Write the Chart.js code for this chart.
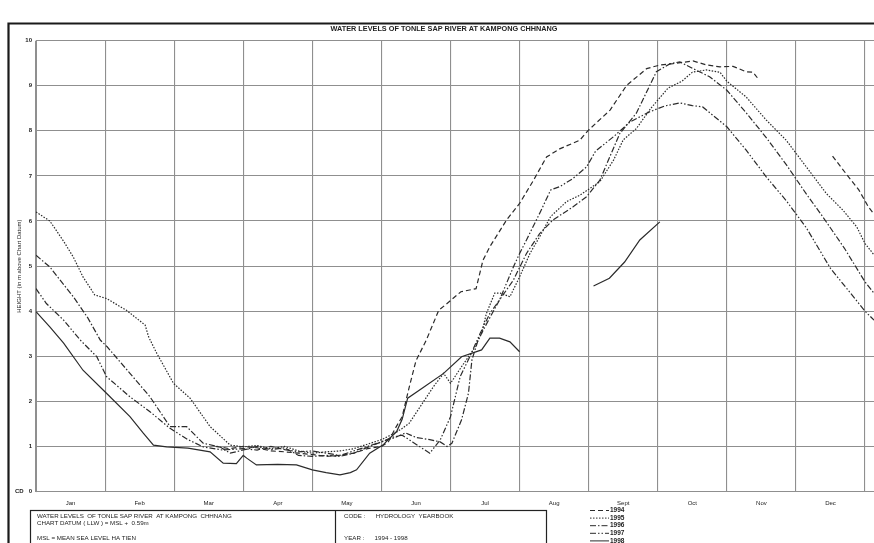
<!DOCTYPE html>
<html><head><meta charset="utf-8">
<script src="https://cdn.jsdelivr.net/npm/chart.js@4/dist/chart.umd.min.js"></script>
<style>html,body{margin:0;padding:0;background:#fff;}#wrap{position:relative;width:874px;height:543px;}</style>
</head><body><div id="wrap"><canvas id="c" width="874" height="543"></canvas></div>
<script>
// ---- data (x = month position, 0 = 1 Jan, 12 = 31 Dec) ----
const months = ['Jan','Feb','Mar','Apr','May','Jun','Jul','Aug','Sept','Oct','Nov','Dec'];
const monthEdges = [0,1,2,3,4,5,6,7,8,9,10,11,12];
const yTicks = [0,1,2,3,4,5,6,7,8,9,10];
const years = ['1994','1995','1996','1997','1998'];
const dashes = [[5,3],[1.5,1.5],[6,2,1.5,2],[6,2,1.5,2,1.5,2],[]];

const y1994 = [[2.6,1.0],[2.8,0.95],[3.0,1.0],[3.2,0.97],[3.4,0.9],[3.6,0.88],[3.8,0.85],[4.0,0.82],[4.2,0.78],[4.4,0.8],[4.6,0.85],[4.8,0.95],[5.0,1.0],[5.1,1.1],[5.2,1.4],[5.3,1.66],[5.4,2.3],[5.5,2.9],[5.65,3.36],[5.83,4.02],[5.95,4.17],[6.15,4.43],[6.37,4.5],[6.47,5.13],[6.57,5.43],[6.81,6.02],[7.0,6.39],[7.2,6.9],[7.39,7.42],[7.58,7.6],[7.87,7.79],[8.0,8.02],[8.31,8.46],[8.55,9.01],[8.84,9.38],[9.03,9.46],[9.22,9.49],[9.51,9.55],[9.71,9.46],[9.9,9.42],[10.09,9.43],[10.28,9.31],[10.38,9.3],[10.45,9.16],[11.0,null],[11.53,7.44],[11.72,7.06],[11.91,6.69],[12.05,6.31],[12.13,6.15]];
const y1995 = [[0,6.2],[0.2,6.0],[0.4,5.55],[0.54,5.2],[0.68,4.76],[0.85,4.36],[1.02,4.28],[1.31,4.02],[1.58,3.69],[1.63,3.43],[1.75,3.06],[1.99,2.4],[2.23,2.07],[2.52,1.44],[2.81,1.03],[3.0,0.99],[3.2,1.02],[3.4,0.95],[3.6,1.0],[3.8,0.9],[4.0,0.85],[4.2,0.88],[4.4,0.9],[4.6,0.95],[4.8,1.05],[5.0,1.15],[5.2,1.3],[5.3,1.4],[5.4,1.51],[5.56,1.88],[5.75,2.32],[5.9,2.62],[6.0,2.4],[6.16,2.77],[6.33,3.14],[6.45,3.51],[6.52,3.95],[6.64,4.4],[6.72,4.4],[6.86,4.32],[7.0,4.76],[7.15,5.28],[7.29,5.65],[7.45,6.1],[7.68,6.43],[7.87,6.57],[8.16,6.87],[8.36,7.35],[8.5,7.8],[8.69,8.05],[8.9,8.5],[9.15,8.95],[9.35,9.1],[9.5,9.3],[9.7,9.35],[9.9,9.3],[10.0,9.1],[10.28,8.75],[10.57,8.24],[10.86,7.79],[11.15,7.2],[11.44,6.61],[11.68,6.24],[11.88,5.87],[12.0,5.5],[12.13,5.25]];
const y1996 = [[0,5.24],[0.2,4.98],[0.54,4.32],[0.75,3.85],[0.93,3.36],[1.03,3.21],[1.36,2.62],[1.65,2.1],[1.94,1.44],[2.18,1.44],[2.42,1.07],[2.66,0.99],[2.81,0.85],[3.0,0.92],[3.2,1.0],[3.4,0.93],[3.6,0.97],[3.8,0.8],[4.0,0.78],[4.2,0.8],[4.4,0.78],[4.6,0.85],[4.8,0.98],[5.0,1.1],[5.2,1.2],[5.35,1.3],[5.5,1.2],[5.7,1.15],[5.85,1.1],[5.95,1.0],[6.02,1.07],[6.16,1.59],[6.26,2.18],[6.31,2.92],[6.4,3.36],[6.55,3.8],[6.71,4.25],[6.91,4.69],[7.1,5.28],[7.29,5.72],[7.48,6.02],[7.77,6.31],[7.97,6.54],[8.16,6.9],[8.45,7.94],[8.69,8.39],[8.98,9.31],[9.18,9.49],[9.32,9.53],[9.51,9.38],[9.75,9.2],[10.0,8.9],[10.28,8.4],[10.57,7.85],[10.86,7.25],[11.15,6.6],[11.39,6.09],[11.7,5.4],[12.0,4.65],[12.13,4.4]];
const y1997 = [[0,4.5],[0.15,4.17],[0.4,3.8],[0.64,3.36],[0.88,2.99],[1.02,2.55],[1.36,2.1],[1.65,1.77],[1.94,1.4],[2.2,1.15],[2.42,0.99],[2.7,0.92],[3.0,0.95],[3.2,0.92],[3.4,1.0],[3.6,0.93],[3.8,0.88],[4.0,0.9],[4.2,0.85],[4.4,0.8],[4.6,0.9],[4.8,1.0],[5.0,1.1],[5.15,1.2],[5.3,1.25],[5.45,1.1],[5.6,0.95],[5.7,0.85],[5.85,1.14],[6.0,1.66],[6.14,2.55],[6.28,2.99],[6.43,3.51],[6.57,3.95],[6.71,4.25],[6.91,4.98],[7.0,5.28],[7.1,5.58],[7.3,6.2],[7.45,6.69],[7.58,6.76],[7.77,6.94],[7.97,7.2],[8.1,7.55],[8.36,7.87],[8.6,8.2],[8.88,8.42],[9.1,8.55],[9.32,8.62],[9.5,8.56],[9.65,8.53],[10.0,8.09],[10.28,7.57],[10.57,6.98],[10.86,6.45],[11.15,5.85],[11.5,4.95],[12.0,4.0],[12.13,3.8]];
const y1998 = [[0,3.99],[0.2,3.65],[0.4,3.29],[0.68,2.69],[1.02,2.18],[1.36,1.66],[1.55,1.3],[1.7,1.03],[1.89,0.99],[2.2,0.96],[2.52,0.88],[2.71,0.63],[2.9,0.62],[3.0,0.8],[3.05,0.74],[3.19,0.59],[3.5,0.6],[3.77,0.59],[4.0,0.48],[4.2,0.42],[4.4,0.37],[4.55,0.42],[4.64,0.48],[4.83,0.85],[5.02,1.03],[5.22,1.33],[5.3,1.6],[5.38,2.07],[5.6,2.3],[5.9,2.62],[6.16,2.99],[6.45,3.14],[6.57,3.4],[6.71,3.4],[6.86,3.32],[7.0,3.1],[7.5,null],[8.07,4.56],[8.3,4.73],[8.52,5.09],[8.74,5.58],[9.03,5.98]];
const series = [y1994, y1995, y1996, y1997, y1998];

const F = "'Liberation Sans Narrow','Liberation Sans',Arial,sans-serif";
const LINE = '#2b2b2b';
const GRID = '#8f8f8f';

const infoLeft = ['WATER LEVELS  OF TONLE SAP RIVER  AT KAMPONG  CHHNANG','CHART DATUM ( LLW ) = MSL +  0.59m','','MSL = MEAN SEA LEVEL HA TIEN'];
const infoRight = ['CODE :      HYDROLOGY  YEARBOOK','','','YEAR :      1994 - 1998'];

const extras = {
  id:'extras',
  afterDraw(chart){
    const c = chart.ctx;
    c.save();
    // outer frame
    c.strokeStyle = '#1a1a1a'; c.lineWidth = 2.2;
    c.beginPath(); c.moveTo(8.5,543); c.lineTo(8.5,23.5); c.lineTo(874,23.5); c.stroke();
    // info box
    c.strokeStyle = '#222'; c.lineWidth = 1.2;
    c.strokeRect(30.5,510.5,516,60);
    c.beginPath(); c.moveTo(335.5,510.5); c.lineTo(335.5,543); c.stroke();
    c.fillStyle = '#222'; c.font = '6.2px ' + F; c.textBaseline = 'middle'; c.textAlign = 'left';
    const rowY = [516, 523, 530.5, 538];
    infoLeft.forEach((t,i)=>{ if(t) c.fillText(t, 37, rowY[i]); });
    infoRight.forEach((t,i)=>{ if(t) c.fillText(t, 344, rowY[i]); });
    // legend
    c.font = 'bold 6.5px ' + F;
    chart.data.datasets.forEach((ds,i)=>{
      const y = 510.5 + i*7.6;
      c.strokeStyle = LINE; c.lineWidth = 1; c.setLineDash(ds.borderDash || []);
      c.beginPath(); c.moveTo(590,y); c.lineTo(609,y); c.stroke();
      c.setLineDash([]);
      c.fillText(ds.label, 610, y);
    });
    c.restore();
  }
};

new Chart(document.getElementById('c'), {
  type:'line',
  data:{ datasets: years.map((yr,i)=>({
    label: yr,
    data: series[i].map(p=>({x:p[0], y:p[1]})),
    borderColor: LINE, borderWidth: 1.2, borderDash: dashes[i],
    pointRadius: 0, tension: 0, spanGaps: false, fill: false
  }))},
  options:{
    responsive:false, animation:false,
    layout:{padding:{left:14,right:0,top:0,bottom:0}},
    plugins:{
      legend:{display:false}, tooltip:{enabled:false},
      title:{display:true, text:'WATER LEVELS OF TONLE SAP RIVER AT KAMPONG CHHNANG', color:'#222',
        font:{family:F, size:7.3, weight:'bold'}, padding:{top:24.6, bottom:7.3}}
    },
    scales:{
      x:{type:'linear', min:0, max:12.13,
        afterBuildTicks: s=>{ s.ticks = monthEdges.map(v=>({value:v})); },
        ticks:{display:false}, grid:{color:GRID, lineWidth:1.1, drawTicks:false}, border:{display:false},
        afterFit: s=>{ s.height = 0; }},
      x2:{type:'linear', position:'bottom', min:0, max:12.13,
        afterBuildTicks: s=>{ s.ticks = months.map((m,i)=>({value:i+0.5})); },
        ticks:{autoSkip:false, maxRotation:0, padding:8, color:'#222', font:{family:F, size:6},
          callback:(v,i)=>months[i]},
        grid:{display:false, drawTicks:false}, border:{display:false},
        afterFit: s=>{ s.height = 51.5; }},
      y:{min:0, max:10,
        afterBuildTicks: s=>{ s.ticks = yTicks.map(v=>({value:v})); },
        ticks:{padding:4, color:'#222', font:{family:F, size:6, weight:'bold'},
          callback: v => v===0 ? 'CD   0' : String(v)},
        grid:{color:GRID, lineWidth:1.1, drawTicks:false}, border:{color:GRID},
        title:{display:true, text:'HEIGHT (in m above Chart Datum)', color:'#222',
          font:{family:F, size:6}, padding:{top:1.4, bottom:0}},
        afterFit: s=>{ s.width = 22; }}
    }
  },
  plugins:[extras]
});
</script></body></html>
